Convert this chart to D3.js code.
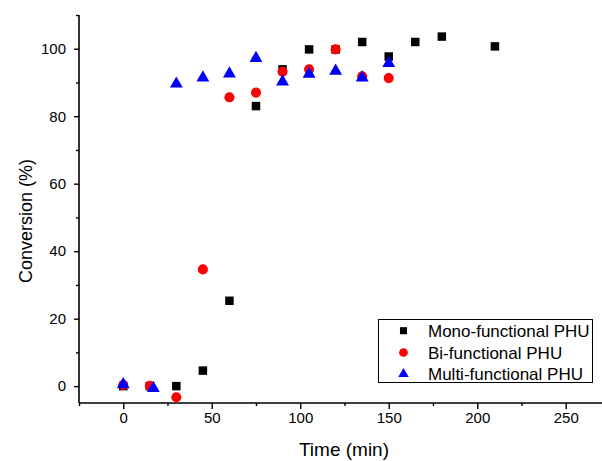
<!DOCTYPE html>
<html><head><meta charset="utf-8">
<script src="https://cdn.jsdelivr.net/npm/d3@7"></script>
<style>body{margin:0;background:#fff}svg{display:block}text{font-family:"Liberation Sans",Arial,sans-serif;fill:#000}</style>
</head><body><svg id="c" width="602" height="461"></svg>
<script>
const seriesNames = ["Mono-functional PHU","Bi-functional PHU","Multi-functional PHU"];
const monoTime = [0,15,30,45,60,75,90,105,120,135,150,165,180,210];
const monoConv = [0,0,0,4.6,25.3,83,93.9,99.8,99.8,102,97.7,102,103.6,100.7];
const biTime = [0,15,30,45,60,75,90,105,120,135,150];
const biConv = [0.3,0.1,-3.3,34.6,85.6,87,93.2,93.9,99.8,91.8,91.3];
const multiTime = [0,17,30,45,60,75,90,105,120,135,150];
const multiConv = [0.5,-0.6,89.6,91.4,92.6,97.2,90.2,92.5,93.4,91.4,95.7];
const xMajorTicks = [0,50,100,150,200,250];
const xMinorTicks = [-25,25,75,125,175,225];
const yMajorTicks = [0,20,40,60,80,100];
const yMinorTicks = [10,30,50,70,90,110];
const colors = ["#000000","#ff0000","#0000ff"];

const svg = d3.select("#c");
const x = d3.scaleLinear().domain([-25,270.5]).range([79,602]);
const y = d3.scaleLinear().domain([-5,110]).range([403,15]);

// axes
const xAxis = svg.append("g").attr("transform","translate(0,403)");
xAxis.call(d3.axisBottom(x).tickValues(xMajorTicks).tickSize(6).tickPadding(3).tickFormat(d3.format("d")));
const xMinor = svg.append("g").attr("transform","translate(0,403)");
xMinor.call(d3.axisBottom(x).tickValues(xMinorTicks).tickSize(3).tickFormat(""));
const yAxis = svg.append("g").attr("transform","translate(79,0)");
yAxis.call(d3.axisLeft(y).tickValues(yMajorTicks).tickSize(5).tickPadding(8).tickFormat(d3.format("d")));
const yMinor = svg.append("g").attr("transform","translate(79,0)");
yMinor.call(d3.axisLeft(y).tickValues(yMinorTicks).tickSize(3).tickFormat(""));
svg.selectAll(".domain").attr("stroke","#000").attr("stroke-width",1.6);
svg.selectAll(".tick line").attr("stroke","#000").attr("stroke-width",1.4);
svg.selectAll(".tick text").style("font-size","15px").attr("fill","#000");
xMinor.select(".domain").remove(); yMinor.select(".domain").remove();
xAxis.select(".domain").attr("d",`M${x.range()[0]},0H${x.range()[1]}`);
yAxis.select(".domain").attr("d",`M0,${y.range()[0]}V${y.range()[1]}`);

// titles
svg.append("text").attr("x",344).attr("y",456).attr("text-anchor","middle").style("font-size","19px").text("Time (min)");
svg.append("text").attr("transform","translate(32,221) rotate(-90)").attr("text-anchor","middle").style("font-size","18px").text("Conversion (%)");

// points
const sq = d3.symbol().type(d3.symbolSquare).size(72);
const ci = d3.symbol().type(d3.symbolCircle).size(80);
const tr = d3.symbol().type(d3.symbolTriangle).size(72);
const series = [
  {t:monoTime,v:monoConv,sym:sq},
  {t:biTime,v:biConv,sym:ci},
  {t:multiTime,v:multiConv,sym:tr}
];
series.forEach((s,i)=>{
  svg.append("g").selectAll("path").data(s.t.map((t,j)=>[t,s.v[j]])).join("path")
    .attr("d",s.sym).attr("fill",colors[i])
    .attr("transform",d=>`translate(${x(d[0])},${y(d[1])})`);
});

// legend
const lg = svg.append("g");
lg.append("rect").attr("x",378.5).attr("y",319.5).attr("width",214).attr("height",63).attr("fill","#fff").attr("stroke","#000").attr("stroke-width",1);
const lsyms = [d3.symbol().type(d3.symbolSquare).size(50), d3.symbol().type(d3.symbolCircle).size(60), d3.symbol().type(d3.symbolTriangle).size(48)];
const rowY = [330.7,352.5,374];
seriesNames.forEach((n,i)=>{
  lg.append("path").attr("d",lsyms[i]).attr("fill",colors[i]).attr("transform",`translate(403.5,${rowY[i]})`);
  lg.append("text").attr("x",428).attr("y",rowY[i]+6).style("font-size","17px").text(n);
});
</script></body></html>
